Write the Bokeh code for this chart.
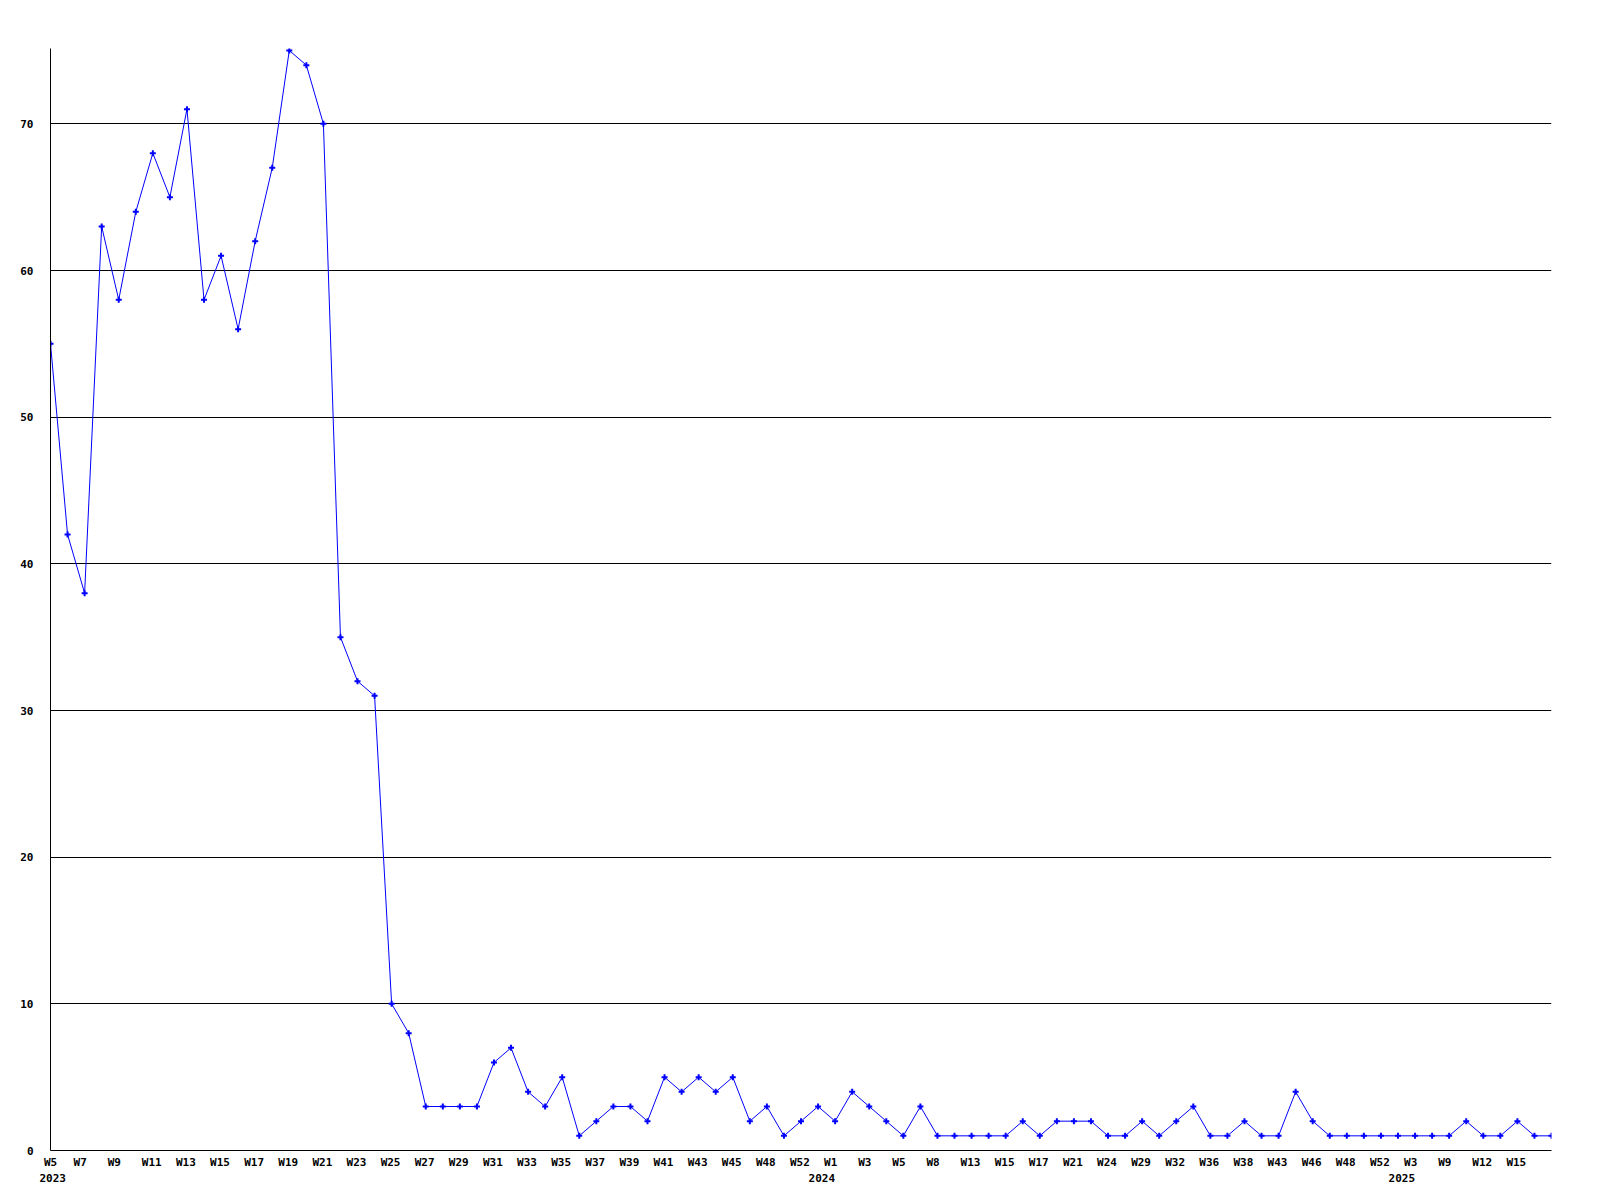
from bokeh.plotting import figure
from bokeh.models import Range1d, FixedTicker, LinearAxis, CustomJSTickFormatter
from bokeh.embed import file_html
from bokeh.resources import INLINE

# ---- data -------------------------------------------------------------
values = [55, 42, 38, 63, 58, 64, 68, 65, 71, 58, 61, 56, 62, 67, 75, 74, 70,
          35, 32, 31, 10, 8,
          3, 3, 3, 3, 6, 7, 4, 3, 5,
          1, 2, 3, 3, 2, 5, 4, 5, 4, 5,
          2, 3, 1, 2, 3, 2, 4, 3, 2, 1,
          3, 1, 1, 1, 1, 1, 2, 1, 2, 2,
          2, 1, 1, 2, 1, 2, 3, 1, 1, 2,
          1, 1, 4, 2, 1, 1, 1, 1, 1, 1,
          1, 1, 2, 1, 1, 2, 1, 1]
# labels shown on every second point
week_labels = ["W5", "W7", "W9", "W11", "W13", "W15", "W17", "W19", "W21", "W23", "W25",
               "W27", "W29", "W31", "W33", "W35", "W37", "W39", "W41", "W43", "W45",
               "W48", "W52", "W1", "W3", "W5", "W8", "W13", "W15", "W17", "W21", "W24",
               "W29", "W32", "W36", "W38", "W43", "W46", "W48", "W52", "W3", "W9",
               "W12", "W15"]
year_labels = ["2023", "2024", "2025"]
year_points = [0, 46, 80]
y_ticks = [0, 10, 20, 30, 40, 50, 60, 70]

# ---- layout -----------------------------------------------------------
BL, BR, BT, BB = 50, 41, 48, 42
frame_w = 1501
frame_h = 1102
W = BL + frame_w + BR
H = BT + frame_h + BB
n = len(values)
x_end = n - 1
ppu = frame_w / x_end            # px per data unit on x
y_top = 75
ypx = (frame_h - 2) / y_top
y_end = y_top + 2 / ypx

FONT = "DejaVu Sans Mono"
FS = 11
CW = 0.602 * FS

xs = list(range(n))

p = figure(width=W, height=H, output_backend="svg", toolbar_location=None,
           x_range=Range1d(0, x_end), y_range=Range1d(0, y_end),
           min_border_left=BL, min_border_right=BR, min_border_top=BT,
           min_border_bottom=BB)
p.outline_line_color = None
p.background_fill_color = "white"
p.border_fill_color = "white"

p.line(xs, values, line_color="#0000ff", line_width=1)
p.scatter(xs, values, marker="cross", size=6, line_color="#0000ff", line_width=2)

# y axis
yax = p.yaxis[0]
yax.ticker = FixedTicker(ticks=y_ticks)
yax.major_tick_out = 0
yax.major_tick_in = 0
yax.minor_tick_out = 0
yax.minor_tick_in = 0
yax.major_label_standoff = 17
yax.major_label_text_font = FONT
yax.major_label_text_font_size = f"{FS}px"
yax.major_label_text_font_style = "bold"
yax.major_label_text_color = "black"
yax.axis_line_color = "black"

p.ygrid.ticker = FixedTicker(ticks=y_ticks)
p.ygrid.grid_line_color = "black"
p.xgrid.visible = False

# week labels (left edge ~11px left of the point, kept inside the range)
wk_pos = [max(0.0, 2 * i + (-11 + len(lab) * CW / 2) / ppu) for i, lab in enumerate(week_labels)]
fmt_code = """
let best = 0, bd = Infinity;
for (let i = 0; i < pos.length; i++) {
  const d = Math.abs(pos[i] - tick);
  if (d < bd) { bd = d; best = i; }
}
return labs[best];
"""
xax = p.xaxis[0]
xax.ticker = FixedTicker(ticks=wk_pos)
xax.formatter = CustomJSTickFormatter(args=dict(pos=wk_pos, labs=week_labels), code=fmt_code)
xax.major_tick_out = 0
xax.major_tick_in = 0
xax.minor_tick_out = 0
xax.minor_tick_in = 0
xax.major_label_standoff = 5
xax.major_label_text_font = FONT
xax.major_label_text_font_size = f"{FS}px"
xax.major_label_text_font_style = "bold"
xax.major_label_text_color = "black"
xax.axis_line_color = "black"

# year labels (right-aligned at their first point, never left of first week label)
yr_pos = []
for lab, idx in zip(year_labels, year_points):
    w = len(lab) * CW
    c = max(idx * ppu - w / 2, -11 + w / 2)
    yr_pos.append(c / ppu)
yr_ax = LinearAxis(ticker=FixedTicker(ticks=yr_pos),
                   formatter=CustomJSTickFormatter(args=dict(pos=yr_pos, labs=year_labels), code=fmt_code))
yr_ax.axis_line_color = None
yr_ax.major_tick_out = 0
yr_ax.major_tick_in = 0
yr_ax.minor_tick_out = 0
yr_ax.minor_tick_in = 0
yr_ax.major_label_standoff = 2
yr_ax.major_label_text_font = FONT
yr_ax.major_label_text_font_size = f"{FS}px"
yr_ax.major_label_text_font_style = "bold"
yr_ax.major_label_text_color = "black"
p.add_layout(yr_ax, "below")

open("out.html", "w").write(file_html(p, INLINE))
